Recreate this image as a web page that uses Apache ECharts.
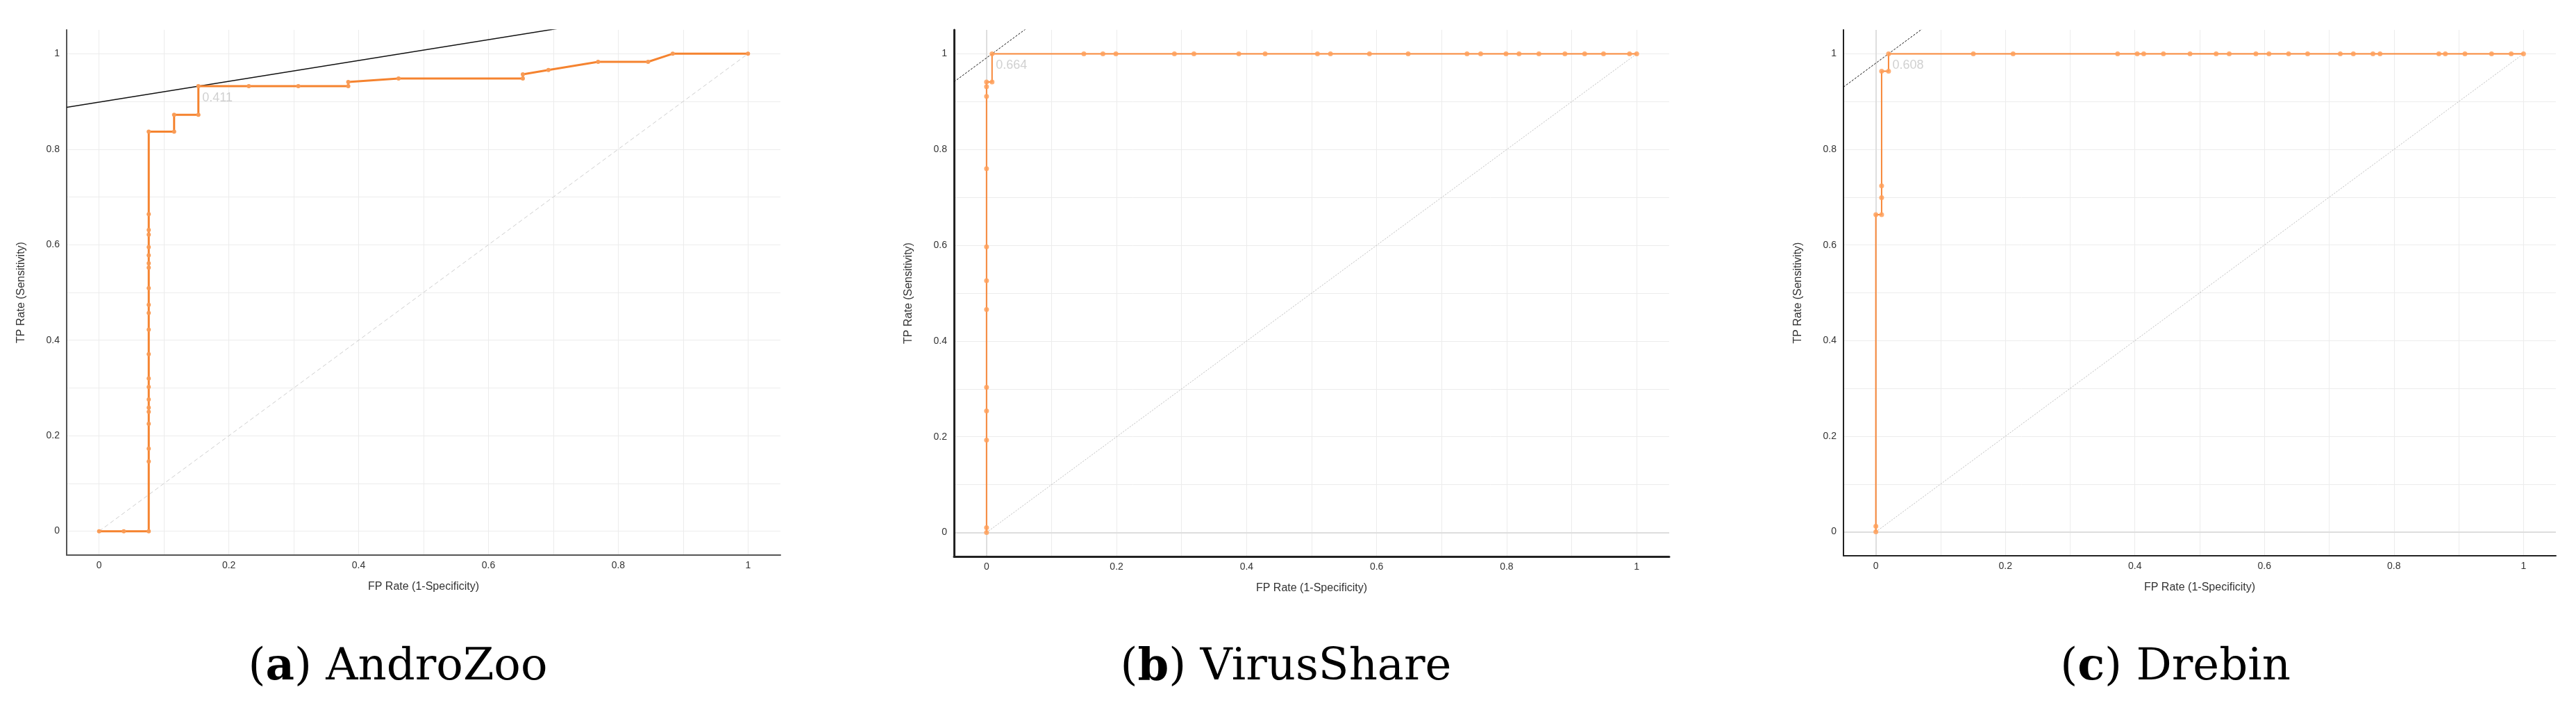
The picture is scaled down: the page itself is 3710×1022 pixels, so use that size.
<!DOCTYPE html>
<html>
<head>
<meta charset="utf-8">
<script src="https://cdn.jsdelivr.net/npm/echarts@6/dist/echarts.min.js"></script>
<style>
  html, body { margin: 0; padding: 0; background: #fff; }
  #main { width: 3710px; height: 1022px; }
</style>
</head>
<body>
<div id="main"></div>
<script>
// tick labels shown on both axes (every 0.2)
const tickLabels = ['0', '0.2', '0.4', '0.6', '0.8', '1'];

// (a) AndroZoo ROC curve
const fprA = [0, 0.038, 0.0765, 0.0765, 0.0765, 0.0765, 0.0765, 0.0765, 0.0765, 0.0765, 0.0765, 0.0765, 0.0765, 0.0765, 0.0765, 0.0765, 0.0765, 0.0765, 0.0765, 0.0765, 0.0765, 0.0765, 0.0765, 0.0765,
  0.1156, 0.1156, 0.153, 0.153, 0.2307, 0.307, 0.384, 0.384, 0.4615, 0.653, 0.653, 0.6925, 0.769, 0.846, 0.884, 1];
const tprA = [0, 0, 0, 0.146, 0.173, 0.225, 0.250, 0.259, 0.276, 0.302, 0.320, 0.371, 0.422, 0.457, 0.474, 0.509, 0.552, 0.561, 0.578, 0.595, 0.621, 0.631, 0.664, 0.837,
  0.837, 0.872, 0.872, 0.932, 0.932, 0.932, 0.932, 0.941, 0.948, 0.948, 0.957, 0.966, 0.983, 0.983, 1, 1];

// (b) VirusShare ROC curve
const fprB = [0, 0, 0, 0, 0, 0, 0, 0, 0, 0, 0, 0, 0.0085, 0.0085, 0.1497, 0.179, 0.199, 0.289, 0.319, 0.388, 0.4285, 0.509, 0.529, 0.589, 0.6485,
  0.739, 0.760, 0.799, 0.819, 0.8496, 0.8896, 0.920, 0.949, 0.989, 1];
const tprB = [0, 0.0103, 0.193, 0.254, 0.3035, 0.466, 0.526, 0.597, 0.760, 0.911, 0.9315, 0.941, 0.941, 1, 1, 1, 1, 1, 1, 1, 1, 1, 1, 1, 1,
  1, 1, 1, 1, 1, 1, 1, 1, 1, 1];

// (c) Drebin ROC curve
const fprC = [0, 0, 0, 0.0089, 0.0089, 0.0089, 0.0089, 0.0196, 0.0196, 0.1505, 0.2119, 0.3733, 0.4036, 0.4136, 0.444, 0.4851, 0.5254, 0.5456,
  0.5868, 0.607, 0.6373, 0.6667, 0.7171, 0.7373, 0.7675, 0.7785, 0.8693, 0.8793, 0.9096, 0.9507, 0.981, 1];
const tprC = [0, 0.0116, 0.6634, 0.6634, 0.699, 0.7236, 0.9637, 0.9637, 1, 1, 1, 1, 1, 1, 1, 1, 1, 1,
  1, 1, 1, 1, 1, 1, 1, 1, 1, 1, 1, 1, 1, 1];

// optimal cut-off points, their threshold labels and the tangent slopes
const optFpr = [0.153, 0.0085, 0.0196];
const optTpr = [0.932, 1.0, 1.0];
const optLabel = ['0.411', '0.664', '0.608'];
const tangentSlope = [0.218, 1.0, 1.0];

const captionKey = ['a', 'b', 'c'];
const captionName = ['AndroZoo', 'VirusShare', 'Drebin'];

const panels = [
  { fpr: fprA, tpr: tprA, grid: { left: 96, top: 43, width: 1028, height: 756 }, capX: 573,
    lineW: 3, lineColor: '#f5832f', symColor: '#f99b55', symSize: 6,
    axisColor: '#555', axisW: 2, tanType: 'solid', tanW: 1.5, diagType: [6, 4], diagColor: '#cfcfcf', zeroLine: null },
  { fpr: fprB, tpr: tprB, grid: { left: 1374, top: 43, width: 1030, height: 758 }, capX: 1852,
    lineW: 2, lineColor: '#f7883a', symColor: 'rgba(255,160,90,0.85)', symSize: 7,
    axisColor: '#222', axisW: 3, tanType: [3, 2], tanW: 1, diagType: [2, 2], diagColor: '#bdbdbd', zeroLine: '#dedede' },
  { fpr: fprC, tpr: tprC, grid: { left: 2655, top: 43, width: 1026, height: 757 }, capX: 3133,
    lineW: 2, lineColor: '#f7883a', symColor: 'rgba(255,160,90,0.85)', symSize: 7,
    axisColor: '#222', axisW: 2, tanType: [3, 2], tanW: 1, diagType: [2, 2], diagColor: '#bdbdbd', zeroLine: '#dedede' }
];

function tickFmt(v) {
  const r = Math.round(v * 10);
  if (Math.abs(v * 10 - r) > 1e-6 || r % 2 !== 0 || r < 0 || r > 10) return '';
  return tickLabels[r / 2];
}

function makeAxis(i, p, isX) {
  return {
    type: 'value',
    gridIndex: i,
    min: -0.05,
    max: 1.05,
    minInterval: 0.1,
    maxInterval: 0.1,
    name: isX ? 'FP Rate (1-Specificity)' : 'TP Rate (Sensitivity)',
    nameLocation: 'middle',
    nameGap: isX ? 38 : 57,
    nameTextStyle: { color: '#333', fontSize: 16, fontFamily: 'Liberation Sans' },
    axisLine: { show: true, onZero: false, lineStyle: { color: p.axisColor, width: p.axisW } },
    axisTick: { show: false },
    axisLabel: {
      formatter: tickFmt, showMinLabel: false, showMaxLabel: false,
      color: '#333', fontSize: 14, fontFamily: 'Liberation Sans', margin: isX ? 8 : 10
    },
    splitLine: { show: true, showMinLine: false, showMaxLine: false, lineStyle: { color: '#ececec', width: 1 } }
  };
}

const grids = [], xAxes = [], yAxes = [], series = [], graphics = [];
panels.forEach((p, i) => {
  grids.push(p.grid);
  xAxes.push(makeAxis(i, p, true));
  yAxes.push(makeAxis(i, p, false));

  // chance diagonal (plus the darker zero grid lines on b and c)
  const diag = {
    type: 'line', xAxisIndex: i, yAxisIndex: i, silent: true, symbol: 'none',
    data: [[0, 0], [1, 1]],
    lineStyle: { color: p.diagColor, width: 1, type: p.diagType }, z: 1
  };
  if (p.zeroLine) {
    diag.markLine = {
      silent: true, symbol: 'none', label: { show: false }, animation: false, z: 0,
      lineStyle: { color: p.zeroLine, width: 2, type: 'solid' },
      data: [{ xAxis: 0 }, { yAxis: 0 }]
    };
  }
  series.push(diag);

  // tangent through the optimal point
  const x0 = -0.05, x1 = 1.05;
  series.push({
    type: 'line', xAxisIndex: i, yAxisIndex: i, silent: true, symbol: 'none', clip: true,
    data: [[x0, optTpr[i] + tangentSlope[i] * (x0 - optFpr[i])], [x1, optTpr[i] + tangentSlope[i] * (x1 - optFpr[i])]],
    lineStyle: { color: '#111', width: p.tanW, type: p.tanType }, z: 3
  });

  // ROC curve
  series.push({
    type: 'line', xAxisIndex: i, yAxisIndex: i, silent: true,
    data: p.fpr.map((x, k) => [x, p.tpr[k]]),
    showSymbol: true, showAllSymbol: true, symbol: 'circle', symbolSize: p.symSize,
    itemStyle: { color: p.symColor, borderWidth: 0 },
    lineStyle: { color: p.lineColor, width: p.lineW }, z: 6
  });

  // threshold label
  series.push({
    type: 'scatter', xAxisIndex: i, yAxisIndex: i, silent: true,
    data: [[optFpr[i], optTpr[i]]], symbolSize: 1, itemStyle: { color: 'rgba(0,0,0,0)' },
    label: {
      show: true, formatter: optLabel[i], position: [6, 8],
      color: '#c4c4c4', fontSize: 18, fontFamily: 'Liberation Sans'
    }, z: 7
  });

  graphics.push({
    type: 'text', x: p.capX, y: 961,
    style: {
      text: '({b|' + captionKey[i] + '}) ' + captionName[i],
      textAlign: 'center', textVerticalAlign: 'middle',
      font: '64px "DejaVu Serif"', fill: '#000',
      rich: { b: { font: 'bold 64px "DejaVu Serif"', fill: '#000' } }
    }
  });
});

const chart = echarts.init(document.getElementById('main'), null, { renderer: 'canvas' });
chart.setOption({
  animation: false,
  backgroundColor: '#fff',
  grid: grids,
  xAxis: xAxes,
  yAxis: yAxes,
  series: series,
  graphic: graphics
});
</script>
</body>
</html>
